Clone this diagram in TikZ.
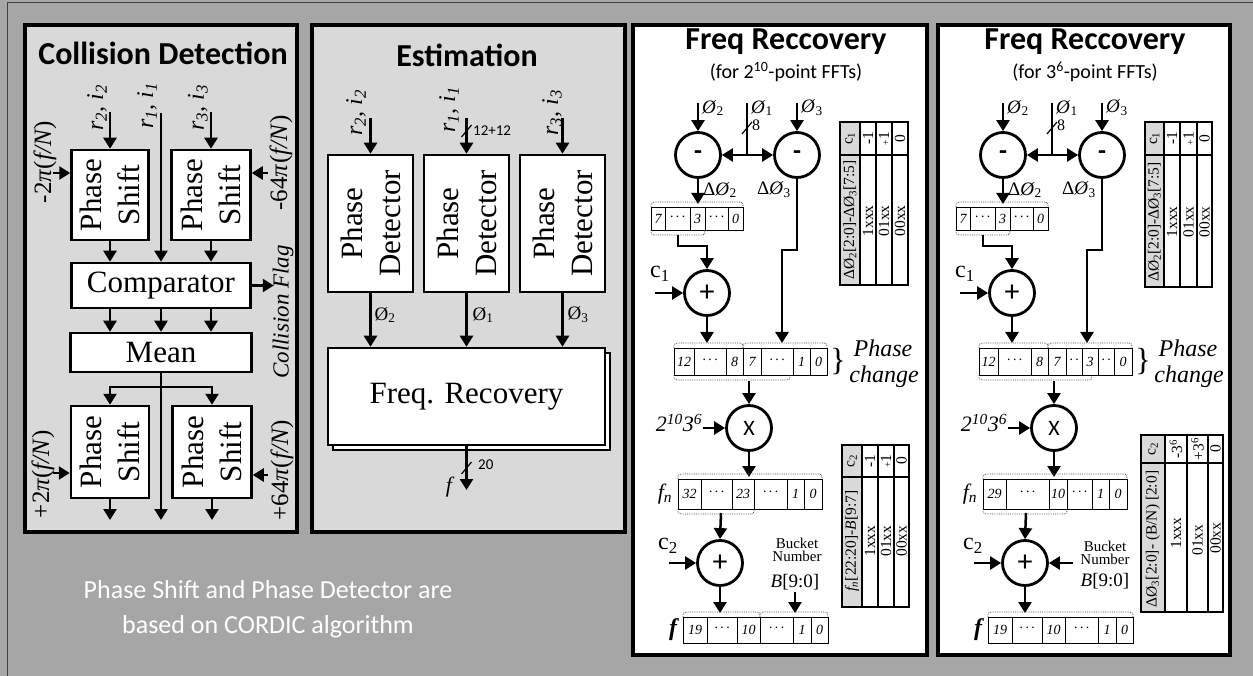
\documentclass[tikz,border=0pt]{standalone}
\usepackage{fontspec}
\setmainfont{Liberation Serif}
\newfontfamily\carl{Carlito}
\usetikzlibrary{arrows.meta}
\definecolor{bggray}{HTML}{A6A6A6}
\definecolor{pgray}{HTML}{D9D9D9}
\newcommand\fs[1]{\fontsize{#1}{#1}\selectfont}
\newcommand\regrow[3]{\foreach \xa/\xb/\ct in {#3}{%
  \draw[cellst] (\xa,#1) rectangle (\xb,#2);
  \node[regtxt] (reg#1x\xa) at ({(\xa+\xb)/2},{(#1+#2)/2}) {\ct};}}
\newcommand\tbr[3]{\draw[dotbr] (#1,#3) -- (#1,#3-5) -- (#2,#3-5) -- (#2,#3);}
\newcommand\bbr[3]{\draw[dotbr] (#1,#3) -- (#1,#3+5) -- (#2,#3+5) -- (#2,#3);}
\newcommand\slashmark[1]{\draw[line width=1.2pt] (#1) ++(-5,6) -- ++(10,-12);}
\newcommand\dts{·\,·\,·}
\tikzset{
  arr/.style={line width=2.5pt, -{Triangle[length=11pt,width=13pt]}},
  ln/.style={line width=2.5pt},
  dar/.style={line width=2.5pt, {Triangle[length=11pt,width=13pt]}-{Triangle[length=11pt,width=13pt]}},
  pbox/.style={draw, line width=2.5pt, fill=white, inner sep=0pt},
  circ/.style={circle, draw, line width=2.8pt, fill=white, minimum size=45pt, inner sep=0pt},
  panel/.style={line width=4.5pt},
  cellst/.style={draw, line width=0.8pt, fill=white},
  regtxt/.style={font=\fs{14}\itshape, inner sep=0pt},
  dotbr/.style={densely dotted, line width=0.8pt, black!70, rounded corners=3pt},
  tbl/.style={line width=1.3pt},
  ttxt/.style={rotate=90, font=\fs{15.5}, inner sep=0pt},
  rot/.style={rotate=90, inner sep=0pt},
  bigt/.style={font=\fontsize{31}{38}\selectfont, align=center},
  ttl/.style={font=\carl\bfseries\fs{32}},
  subt/.style={font=\carl\fs{20}},
  lbl/.style={font=\fs{19}, inner sep=0pt},
}
\newcommand\frpanel{%
  \node[circ, font=\carl\bfseries\fs{26}] (sub1) at (698,155) {-};
  \node[circ, font=\carl\bfseries\fs{26}] (sub2) at (797,155) {-};
  \coordinate (p2) at (698,103); \draw[arr] (p2) -- (sub1.north);
  \node[lbl, anchor=west] (lp2) at (702,108) {\textit{Ø}\textsubscript{2}};
  \coordinate (p1) at (747,103); \coordinate (p1b) at (747,155); \draw[ln] (p1) -- (p1b);
  \draw[dar] (sub1.east) -- (sub2.west);
  \coordinate (s8) at (747,128); \slashmark{s8}
  \node[anchor=west, font=\fs{16}, inner sep=0pt] (l8) at (752,125) {8};
  \node[lbl, anchor=west] (lp1) at (751,108) {\textit{Ø}\textsubscript{1}};
  \coordinate (p3) at (797,103); \draw[arr] (p3) -- (sub2.north);
  \node[lbl, anchor=west] (lp3) at (801,108) {\textit{Ø}\textsubscript{3}};
  \coordinate (d2) at (698,204); \draw[arr] (sub1.south) -- (d2);
  \node[lbl, anchor=west] (ld2) at (703,190) {Δ\textit{Ø}\textsubscript{2}};
  \node[lbl, anchor=west] (ld3) at (757,190) {Δ\textit{Ø}\textsubscript{3}};
  \coordinate (j1) at (797,250); \coordinate (j2) at (782,250); \coordinate (d3) at (782,343);
  \draw[arr] (sub2.south) -- (j1) -- (j2) -- (d3);
  \regrow{207}{230}{651/665/7, 665/690/\dts, 690/705/3, 705/728/\dts, 728/743/0}
  \tbr{651}{743}{207} \bbr{651}{705}{230}
  \node[circ, font=\carl\fs{30}] (add1) at (707,293) {+};
  \coordinate (q1) at (678,235); \coordinate (q2) at (678,246); \coordinate (q3) at (707,246);
  \draw[arr] (q1) -- (q2) -- (q3) -- (add1.north);
  \node[font=\fs{24}, inner sep=0pt] (lc1) at (660,274) {c\textsubscript{1}};
  \coordinate (c1in) at (655,293); \draw[arr] (c1in) -- (add1.west);
  \coordinate (r2a) at (707,343); \draw[arr] (add1.south) -- (r2a);
  \node[font=\fs{32}, inner sep=0pt] (brc) at (838,362) {\}};
  \node[font=\fs{24}\itshape, inner sep=0pt] (phc) at (883,348) {Phase};
  \node[font=\fs{24}\itshape, inner sep=0pt] (chg) at (884,377) {change};
  \node[circ, font=\carl\fs{22}] (mul) at (749,428) {X};
  \coordinate (m0) at (749,381); \draw[arr] (m0) -- (mul.north);
  \node[font=\fs{22}\itshape, inner sep=0pt] (l2103) at (679,423) {2\textsuperscript{10}3\textsuperscript{6}};
  \coordinate (min) at (703,428); \draw[arr] (min) -- (mul.west);
  \coordinate (m1) at (749,477); \draw[arr] (mul.south) -- (m1);
  \node[font=\fs{22}\itshape, inner sep=0pt] (lfn) at (665,494) {f\textsubscript{n}};
  \node[circ, font=\carl\fs{30}] (add2) at (720,563) {+};
  \coordinate (a2in) at (721,513); \draw[arr] (a2in) -- (add2.north);
  \node[font=\fs{24}, inner sep=0pt] (lc2) at (668,546) {c\textsubscript{2}};
  \coordinate (c2in) at (669,563); \draw[arr] (c2in) -- (add2.west);
  \coordinate (a2o) at (720,613); \draw[arr] (add2.south) -- (a2o);
  \node[font=\fs{24}\bfseries\itshape, inner sep=0pt] (lf) at (673,630) {f};
  \regrow{617}{643}{683/707/19, 707/737/\dts, 737/760/10, 760/793/\dts, 793/811/1, 811/828/0}
}
\begin{document}
\begin{tikzpicture}[x=1pt,y=-1pt]
\fill[bggray] (0,0) rectangle (1253,676);
\useasboundingbox (0,0) rectangle (1253,676);
\draw[line width=1pt, black!75] (7,680) -- (7,3) -- (1260,3);
% panels
\draw[panel, fill=pgray] (25,25) rectangle (297,532);
\draw[panel, fill=pgray] (312,25) rectangle (625,532);
\draw[panel, fill=white] (633,25) rectangle (927,655);
\draw[panel, fill=white] (938,25) rectangle (1230,655);
\node[ttl] (t1) at (163,53) {Collision Detection};
\node[ttl] (t2) at (467,55) {Estimation};
\node[ttl] (t3) at (786,42) {Freq Reccovery};
\node[subt] (s3) at (786,72) {(for 2\textsuperscript{10}-point FFTs)};
\node[ttl] (t4) at (1085,42) {Freq Reccovery};
\node[subt] (s4) at (1085,72) {(for 3\textsuperscript{6}-point FFTs)};
\node[font=\carl\fontsize{26}{35}\selectfont, text=white, align=center] (foot) at (268,609) {Phase Shift and Phase Detector are\\based on CORDIC algorithm};
% ---------- Collision detection
\node[pbox, minimum width=77, minimum height=90] (ps1) at (110,195) {};
\node[rot, bigt] (ps1t) at (ps1) {Phase\\Shift};
\node[pbox, minimum width=79, minimum height=90] (ps2) at (211,195) {};
\node[rot, bigt] (ps2t) at (ps2) {Phase\\Shift};
\node[pbox, minimum width=179, minimum height=45, font=\fs{31}] (cmp) at (161,285.5) {Comparator};
\node[pbox, minimum width=181, minimum height=39, font=\fs{31}] (mean) at (161,352.5) {Mean};
\node[pbox, minimum width=78, minimum height=92] (ps3) at (110,452) {};
\node[rot, bigt] (ps3t) at (ps3) {Phase\\Shift};
\node[pbox, minimum width=79, minimum height=92] (ps4) at (212,452) {};
\node[rot, bigt] (ps4t) at (ps4) {Phase\\Shift};
\node[rot, font=\fs{24}\itshape] (lr2) at (97,108) {r\textsubscript{2}, i\textsubscript{2}};
\node[rot, font=\fs{24}\itshape] (lr1) at (147,106) {r\textsubscript{1}, i\textsubscript{1}};
\node[rot, font=\fs{24}\itshape] (lr3) at (198,108) {r\textsubscript{3}, i\textsubscript{3}};
\coordinate (a2) at (110,112); \draw[arr] (a2) -- (ps1.north);
\coordinate (a1) at (161,113); \draw[arr] (a1) -- (a1 |- cmp.north);
\coordinate (a3) at (211,112); \draw[arr] (a3) -- (ps2.north);
\coordinate (w1) at (53,173); \draw[arr] (w1) -- (w1 -| ps1.west);
\coordinate (e1) at (268,173); \draw[arr] (e1) -- (e1 -| ps2.east);
\node[rot, font=\fs{25}] (lw1) at (45,162) {-2\textit{π}(\textit{f/N})};
\node[rot, font=\fs{25}] (le1) at (281,163) {-64\textit{π}(\textit{f/N})};
\draw[arr] (ps1.south) -- (ps1.south |- cmp.north);
\draw[arr] (ps2.south) -- (ps2.south |- cmp.north);
\draw[arr] (cmp.east) -- ++(22,0);
\node[rot, font=\fs{23}\itshape] (flag) at (283,312) {Collision Flag};
\draw[arr] (cmp.south -| ps1.south) -- (mean.north -| ps1.south);
\draw[arr] (cmp.south) -- (mean.north);
\draw[arr] (cmp.south -| ps2.south) -- (mean.north -| ps2.south);
\coordinate (o1) at (161,520); \draw[arr] (mean.south) -- (o1);
\coordinate (br) at (161,387); \draw[arr] (br) -| (ps3.north); \draw[arr] (br) -| (ps4.north);
\draw[arr] (ps3.south) -- (ps3.south |- o1);
\draw[arr] (ps4.south) -- (ps4.south |- o1);
\coordinate (w2) at (53,473); \draw[arr] (w2) -- (w2 -| ps3.west);
\coordinate (e2) at (268,475); \draw[arr] (e2) -- (e2 -| ps4.east);
\node[rot, font=\fs{25}] (lw2) at (43,474) {+2\textit{π}(\textit{f/N})};
\node[rot, font=\fs{25}] (le2) at (282,470) {+64\textit{π}(\textit{f/N})};
% ---------- Estimation
\foreach \n/\x in {1/370.5, 2/466.5, 3/562.5}{
  \node[pbox, minimum width=85, minimum height=137] (pd\n) at (\x,223.5) {};
  \node[rot, bigt] (pd\n t) at (pd\n) {Phase\\Detector};
  \coordinate (pin\n) at (\x,118); \draw[arr] (pin\n) -- (pd\n.north);
}
\node[rot, font=\fs{24}\itshape] (er2) at (356,113) {r\textsubscript{2}, i\textsubscript{2}};
\node[rot, font=\fs{24}\itshape] (er1) at (449,110) {r\textsubscript{1}, i\textsubscript{1}};
\node[rot, font=\fs{24}\itshape] (er3) at (552,113) {r\textsubscript{3}, i\textsubscript{3}};
\coordinate (es) at (466.5,131); \slashmark{es}
\node[anchor=west, font=\carl\fs{15}, inner sep=0pt] (l1212) at (473,131) {12+12};
\draw[line width=1.6pt, fill=white] (333,353) rectangle (610,450);
\node[pbox, minimum width=277, minimum height=97, font=\fs{31}] (frb) at (466.5,396.5) {Freq. Recovery};
\foreach \n in {1,2,3}{\draw[arr] (pd\n.south) -- (pd\n.south |- frb.north);}
\node[lbl] (eo2) at (385,315) {Ø\textsubscript{2}};
\node[lbl] (eo1) at (483,315) {Ø\textsubscript{1}};
\node[lbl] (eo3) at (578,315) {Ø\textsubscript{3}};
\coordinate (fo) at (466.5,490); \draw[arr] (frb.south) -- (fo);
\coordinate (es2) at (466.5,468); \slashmark{es2}
\node[anchor=west, font=\carl\fs{15}, inner sep=0pt] (l20) at (478,465) {20};
\node[font=\fs{22}\itshape, inner sep=0pt] (lfo) at (449,487) {f};
% ---------- Freq recovery panels
\begin{scope}[name prefix=a-]\frpanel\end{scope}
\begin{scope}[xshift=305pt, name prefix=b-]\frpanel\end{scope}
% FR1 specifics
\regrow{348}{375}{674/694/12, 694/726/\dts, 726/743/8, 743/761/7, 761/793/\dts, 793/810/1, 810/827/0}
\tbr{674}{743}{348} \tbr{743}{827}{348} \bbr{674}{790}{375}
\regrow{479}{509}{678/701/32, 701/732/\dts, 732/754/23, 754/787/\dts, 787/804/1, 804/822/0}
\tbr{678}{822}{479} \bbr{678}{754}{509}
\tbr{683}{760}{617} \tbr{760}{828}{617}
\node[font=\fontsize{15}{13}\selectfont, align=center, inner sep=0pt] (bk1) at (797,550) {Bucket\\Number};
\node[font=\fs{19}, inner sep=0pt] (bB1) at (795,582) {\textit{B}[9:0]};
\coordinate (bb1) at (795,592); \coordinate (bb2) at (795,613); \draw[arr] (bb1) -- (bb2);
% FR2 specifics
\regrow{348}{375}{979/998/12, 998/1031/\dts, 1031/1048/8, 1048/1066/7, 1066/1082/·\,·, 1082/1098/3, 1098/1114/·\,·, 1114/1132/0}
\tbr{979}{1048}{348} \tbr{1048}{1132}{348} \bbr{979}{1092}{375}
\regrow{479}{509}{983/1006/29, 1006/1049/\dts, 1049/1067/10, 1067/1092/\dts, 1092/1109/1, 1109/1127/0}
\tbr{983}{1127}{479} \bbr{983}{1067}{509}
\tbr{988}{1133}{617}
\node[font=\fontsize{15}{13}\selectfont, align=center, inner sep=0pt] (bk2) at (1105,553) {Bucket\\Number};
\node[font=\fs{19}, inner sep=0pt] (bB2) at (1105,581) {\textit{B}[9:0]};
\coordinate (bb3) at (1073,563); \draw[arr] (bb3) -- (b-add2.east);
% tables FR1
\fill[pgray] (840,122) rectangle (860,285);
\draw[tbl] (840,122) rectangle (908,285) (860,122) -- (860,285) (876,122) -- (876,285) (892,122) -- (892,285) (840,155) -- (908,155);
\node[ttxt] (ta1) at (850,138.5) {c\textsubscript{1}};
\node[ttxt] (ta2) at (850,220) {ΔØ\textsubscript{2}[2:0]-ΔØ\textsubscript{3}[7:5]};
\node[ttxt] (ta3) at (868,138.5) {-1};
\node[ttxt] (ta4) at (884,138.5) {{\fs{10}+}1};
\node[ttxt] (ta5) at (900,138.5) {0};
\node[ttxt] (ta6) at (868,221) {1xxx};
\node[ttxt] (ta7) at (884,221) {01xx};
\node[ttxt] (ta8) at (900,221) {00xx};
\fill[pgray] (842,445) rectangle (862,607);
\draw[tbl] (842,445) rectangle (909,607) (862,445) -- (862,607) (878,445) -- (878,607) (894,445) -- (894,607) (842,477) -- (909,477);
\node[ttxt] (tb1) at (852,461) {c\textsubscript{2}};
\node[ttxt] (tb2) at (852,541) {\textit{f\textsubscript{n}}[22:20]-\textit{B}[9:7]};
\node[ttxt] (tb3) at (870,461) {-1};
\node[ttxt] (tb4) at (886,461) {{\fs{10}+}1};
\node[ttxt] (tb5) at (901.5,461) {0};
\node[ttxt] (tb6) at (870,541) {1xxx};
\node[ttxt] (tb7) at (886,541) {01xx};
\node[ttxt] (tb8) at (901.5,541) {00xx};
% tables FR2
\fill[pgray] (1145,122) rectangle (1164,287);
\draw[tbl] (1145,122) rectangle (1212,287) (1164,122) -- (1164,287) (1180,122) -- (1180,287) (1197,122) -- (1197,287) (1145,155) -- (1212,155);
\node[ttxt] (tc1) at (1154.5,138.5) {c\textsubscript{1}};
\node[ttxt] (tc2) at (1154.5,222) {ΔØ\textsubscript{2}[2:0]-ΔØ\textsubscript{3}[7:5]};
\node[ttxt] (tc3) at (1172,138.5) {-1};
\node[ttxt] (tc4) at (1188.5,138.5) {{\fs{10}+}1};
\node[ttxt] (tc5) at (1204.5,138.5) {0};
\node[ttxt] (tc6) at (1172,222) {1xxx};
\node[ttxt] (tc7) at (1188.5,222) {01xx};
\node[ttxt] (tc8) at (1204.5,222) {00xx};
\fill[pgray] (1141,435) rectangle (1165,612);
\draw[tbl] (1141,435) rectangle (1223,612) (1165,435) -- (1165,612) (1187,435) -- (1187,612) (1208,435) -- (1208,612) (1141,463) -- (1223,463);
\node[ttxt] (td1) at (1153,449) {c\textsubscript{2}};
\node[ttxt] (td2) at (1153,539) {ΔØ\textsubscript{3}[2:0]- (B/N) [2:0]};
\node[ttxt] (td3) at (1176,449) {-3\textsuperscript{6}};
\node[ttxt] (td4) at (1197.5,449) {+3\textsuperscript{6}};
\node[ttxt] (td5) at (1215.5,449) {0};
\node[ttxt] (td6) at (1176,533) {1xxx};
\node[ttxt] (td7) at (1197.5,540) {01xx};
\node[ttxt] (td8) at (1215.5,538) {00xx};
\end{tikzpicture}
\end{document}
